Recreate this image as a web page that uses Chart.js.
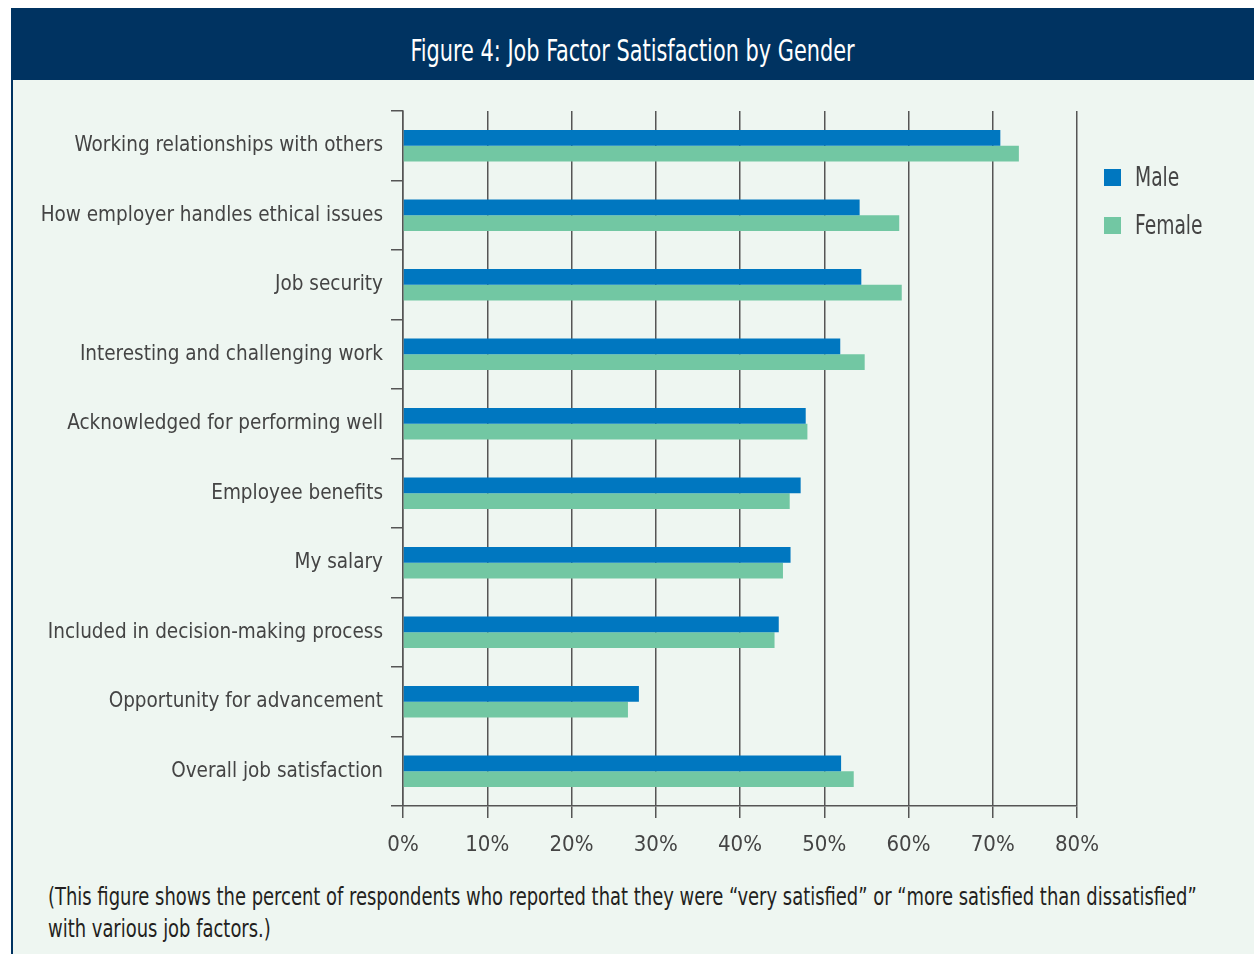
<!DOCTYPE html>
<html>
<head>
<meta charset="utf-8">
<script src="https://cdn.jsdelivr.net/npm/chart.js@4.4.0/dist/chart.umd.min.js"></script>
<style>
  html, body { margin: 0; padding: 0; background: #ffffff; width: 1254px; height: 954px; overflow: hidden; }
  body { font-family: "DejaVu Sans Condensed", "Liberation Sans Narrow", "DejaVu Sans", sans-serif; }
  #frame { position: absolute; left: 11px; top: 8px; width: 1243px; height: 946px; background: #eef6f1; }
  #border { position: absolute; left: 11px; top: 8px; width: 2px; height: 946px; background: #003361; }
  #header { position: absolute; left: 11px; top: 8px; width: 1243px; height: 72px; background: #003361; }
  #title { position: absolute; left: 0; top: 6px; width: 100%; height: 72px; line-height: 72px; text-align: center; color: #ffffff; font-size: 31px; white-space: nowrap; transform: scaleX(0.748); transform-origin: 50% 50%; }
  #chartwrap { position: absolute; left: 13px; top: 80px; width: 1241px; height: 800px; }
  #legend { position: absolute; left: 1104px; top: 160px; }
  .item { position: relative; height: 48px; }
  .swatch { position: absolute; left: 0; top: 9px; width: 17px; height: 17px; }
  .label { position: absolute; left: 31px; top: 0; line-height: 34px; font-size: 26px; color: #444444; white-space: nowrap; transform: scaleX(0.8); transform-origin: 0 50%; }
  #note { position: absolute; left: 48px; top: 881px; font-size: 24px; line-height: 32px; color: #231f20; white-space: nowrap; transform: scaleX(0.831); transform-origin: 0 0; }
</style>
</head>
<body>
<div id="frame"></div>
<div id="header"><div id="title">Figure 4: Job Factor Satisfaction by Gender</div></div>
<div id="border"></div>
<div id="chartwrap"><canvas id="chart" width="1241" height="800"></canvas></div>
<div id="legend"></div>
<div id="note">(This figure shows the percent of respondents who reported that they were “very satisfied” or “more satisfied than dissatisfied”<br>with various job factors.)</div>
<script>
const categories = [
  "Working relationships with others",
  "How employer handles ethical issues",
  "Job security",
  "Interesting and challenging work",
  "Acknowledged for performing well",
  "Employee benefits",
  "My salary",
  "Included in decision-making process",
  "Opportunity for advancement",
  "Overall job satisfaction"
];
const seriesNames = ["Male", "Female"];
const maleValues   = [70.9, 54.2, 54.4, 51.9, 47.8, 47.2, 46.0, 44.6, 28.0, 52.0];
const femaleValues = [73.1, 58.9, 59.2, 54.8, 48.0, 45.9, 45.1, 44.1, 26.7, 53.5];
const xTickLabels = ["0%", "10%", "20%", "30%", "40%", "50%", "60%", "70%", "80%"];
const seriesColors = ["#0077c0", "#72c7a3"];

const FONT = '"DejaVu Sans Condensed", "Liberation Sans Narrow", "DejaVu Sans", sans-serif';

const chart = new Chart(document.getElementById('chart'), {
  type: 'bar',
  data: {
    labels: categories,
    datasets: [
      { label: seriesNames[0], data: maleValues, backgroundColor: seriesColors[0], borderWidth: 0 },
      { label: seriesNames[1], data: femaleValues, backgroundColor: seriesColors[1], borderWidth: 0 }
    ]
  },
  options: {
    indexAxis: 'y',
    responsive: false,
    animation: false,
    events: [],
    layout: { padding: { left: 0, top: 31, right: 177, bottom: 0 } },
    datasets: { bar: { categoryPercentage: 0.455, barPercentage: 1.0 } },
    plugins: { legend: { display: false }, tooltip: { enabled: false }, title: { display: false } },
    scales: {
      x: {
        type: 'linear',
        min: 0, max: 80,
        ticks: {
          stepSize: 10,
          color: '#444444',
          font: { family: FONT, size: 22 },
          padding: 14,
          callback: (v, i) => xTickLabels[i]
        },
        grid: { color: '#555555', lineWidth: 1.5, tickLength: 12, drawTicks: true },
        border: { display: true, color: '#555555', width: 1.5 },
        afterFit: (s) => { s.height = 74; }
      },
      y: {
        ticks: { color: '#444444', font: { family: FONT, size: 20.5 }, padding: 8 },
        grid: { drawOnChartArea: false, drawTicks: true, color: '#555555', lineWidth: 1.5, tickLength: 12, offset: true },
        border: { display: true, color: '#555555', width: 1.5 },
        afterFit: (s) => { s.width = 390; }
      }
    }
  }
});

// HTML legend built from the chart's datasets
const legendEl = document.getElementById('legend');
chart.data.datasets.forEach(ds => {
  const item = document.createElement('div');
  item.className = 'item';
  const sw = document.createElement('div');
  sw.className = 'swatch';
  sw.style.background = ds.backgroundColor;
  const lb = document.createElement('div');
  lb.className = 'label';
  lb.textContent = ds.label;
  item.appendChild(sw);
  item.appendChild(lb);
  legendEl.appendChild(item);
});
</script>
</body>
</html>
